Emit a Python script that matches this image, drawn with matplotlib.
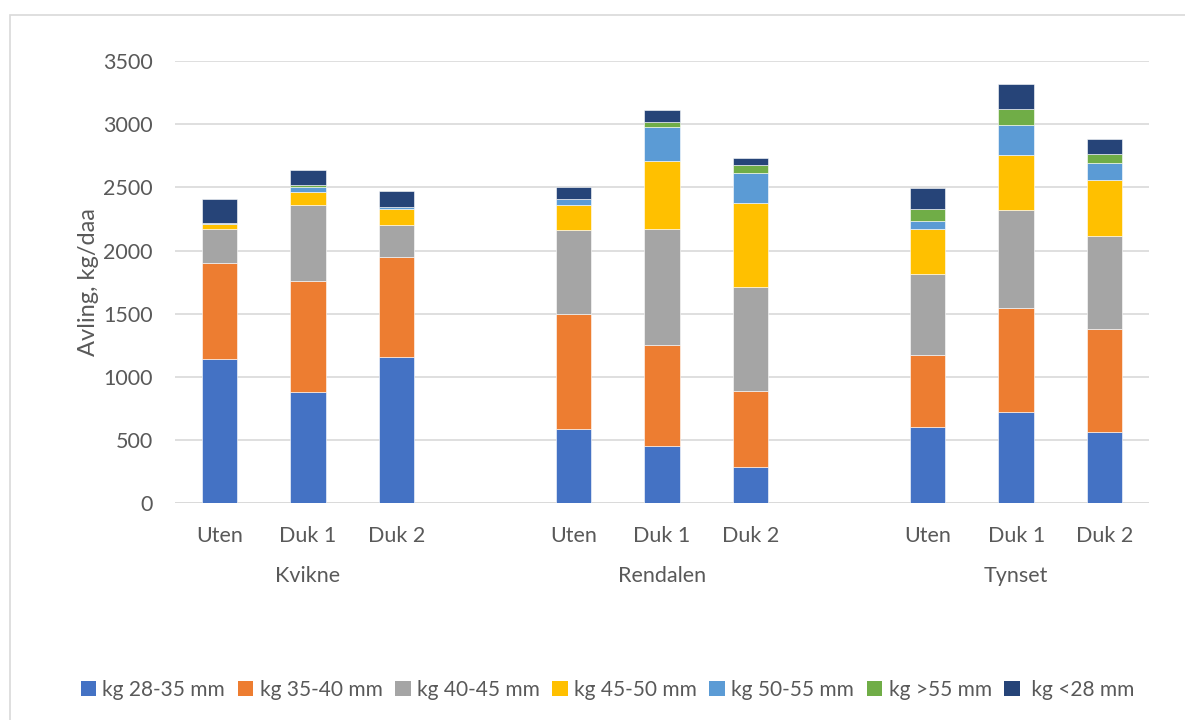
import matplotlib
matplotlib.use("Agg")
import matplotlib.pyplot as plt
from matplotlib.patches import Patch, Rectangle
import numpy as np

plt.rcParams['font.family'] = ['Lato', 'DejaVu Sans']

# Sites and treatments
sites = ["Kvikne", "Rendalen", "Tynset"]
treatments = ["Uten", "Duk 1", "Duk 2"]

# Yield per size class (kg/daa), ordered Kvikne(Uten, Duk 1, Duk 2), Rendalen(...), Tynset(...)
kg_28_35 = [1141, 880, 1157, 591, 457, 290, 602, 726, 565]
kg_35_40 = [761, 876, 792, 904, 797, 597, 568, 816, 816]
kg_40_45 = [269, 608, 251, 665, 917, 825, 645, 780, 732]
kg_45_50 = [42, 100, 132, 204, 541, 665, 359, 435, 443]
kg_50_55 = [5, 40, 13, 42, 267, 238, 57, 235, 138]
kg_over_55 = [3, 13, 2, 3, 37, 60, 101, 132, 71]
kg_under_28 = [188, 124, 122, 92, 93, 59, 164, 191, 119]

series_labels = ["kg 28-35 mm", "kg 35-40 mm", "kg 40-45 mm", "kg 45-50 mm",
                 "kg 50-55 mm", "kg >55 mm", " kg <28 mm"]
series = [kg_28_35, kg_35_40, kg_40_45, kg_45_50, kg_50_55, kg_over_55, kg_under_28]
colors = ["#4472C4", "#ED7D31", "#A5A5A5", "#FFC000", "#5B9BD5", "#70AD47", "#264478"]

W, H = 1185, 720
fig = plt.figure(figsize=(W / 100, H / 100), dpi=100)
fig.patch.set_facecolor("white")

# Chart-area border
fig.add_artist(Rectangle((9.5 / W, -0.01), 1.1, (H - 14.5) / H + 0.01,
                         transform=fig.transFigure, fill=False,
                         edgecolor="#d9d9d9", linewidth=1.2))

ax = fig.add_axes([175 / W, (H - 503.3) / H, (1149 - 175) / W, (503.3 - 61) / H])

# Positions: three bars per site with an empty slot between sites
x = []
for g in range(len(sites)):
    for t in range(len(treatments)):
        x.append(g * (len(treatments) + 1) + t)
x = np.array(x, dtype=float)

bottom = np.zeros(len(x))
for vals, col in zip(series, colors):
    vals = np.array(vals, dtype=float)
    ax.bar(x, vals, width=0.4, bottom=bottom, color=col,
           edgecolor="white", linewidth=0.4, zorder=3)
    bottom += vals

ax.set_xlim(-0.5, x.max() + 0.5)
ax.set_ylim(0, 3500)
ax.set_yticks(np.arange(0, 3501, 500))
ax.yaxis.grid(True, color="#d9d9d9", linewidth=1.2, zorder=0)
ax.set_axisbelow(True)
for s in ax.spines.values():
    s.set_visible(False)
ax.axhline(0, color="#d9d9d9", linewidth=1.2, zorder=2)

text_color = "#595959"
ax.tick_params(axis="both", length=0, labelsize=15.5, colors=text_color)
ax.tick_params(axis="y", pad=16)
ax.tick_params(axis="x", pad=16)
ax.set_xticks(x)
ax.set_xticklabels(treatments * len(sites))

ax.set_ylabel("Avling, kg/daa", fontsize=17, color=text_color, labelpad=3)

# Site labels under each treatment group
for g, site in enumerate(sites):
    cx = x[g * 3 + 1]
    ax.annotate(site, xy=(cx, 0), xycoords=("data", "axes fraction"),
                xytext=(0, -52), textcoords="offset points",
                ha="center", va="center", fontsize=15.5, color=text_color)

handles = [Patch(facecolor=c, edgecolor="none") for c in colors]
fig.legend(handles, series_labels, loc="center",
           bbox_to_anchor=(607.5 / W, (H - 690) / H),
           ncol=7, frameon=False, fontsize=15, handlelength=0.75, handleheight=0.75,
           handletextpad=0.3, columnspacing=0.6, labelcolor=text_color)

fig.savefig("out.png", dpi=100, facecolor="white")
